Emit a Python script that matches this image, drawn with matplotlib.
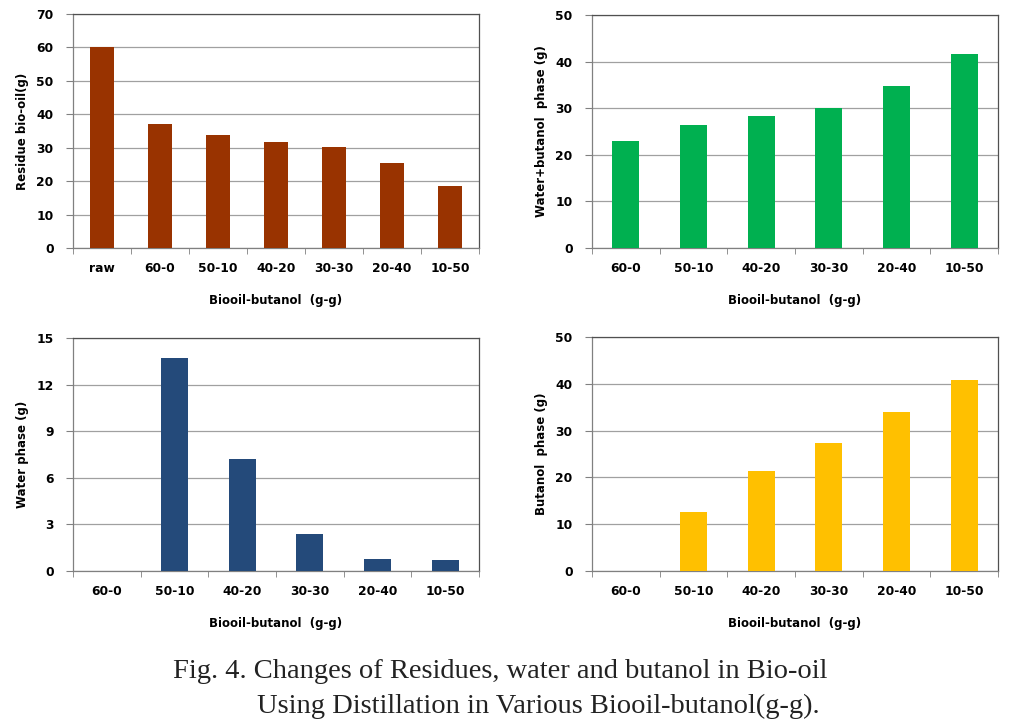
import numpy as np
import matplotlib
matplotlib.use("Agg")
import matplotlib.pyplot as plt

# data
cats_res = ['raw', '60-0', '50-10', '40-20', '30-30', '20-40', '10-50']
residue = [60.0, 37.2, 33.7, 31.6, 30.1, 25.3, 18.4]

cats = ['60-0', '50-10', '40-20', '30-30', '20-40', '10-50']
water_butanol = [23.0, 26.4, 28.4, 30.0, 34.8, 41.6]
water = [0.0, 13.7, 7.2, 2.4, 0.8, 0.7]
butanol = [0.0, 12.6, 21.3, 27.4, 33.9, 40.8]

W, H = 1018, 725
fig = plt.figure(figsize=(W/100, H/100), dpi=100)

def box(x0, y0, x1, y1):
    return [x0/W, 1 - y1/H, (x1 - x0)/W, (y1 - y0)/H]

panels = [
    (box(73, 14, 479, 248), cats_res, residue, '#993300', 70, 10, 'Residue bio-oil(g)'),
    (box(592, 15, 998, 248), cats, water_butanol, '#00B050', 50, 10, 'Water+butanol  phase (g)'),
    (box(73, 338, 479, 571), cats, water, '#244A7A', 15, 3, 'Water phase (g)'),
    (box(592, 337, 998, 571), cats, butanol, '#FFC000', 50, 10, 'Butanol  phase (g)'),
]

tick_font = dict(family='DejaVu Sans', weight='bold', size=8.8)

for rect, labels, vals, color, ymax, step, ylab in panels:
    ax = fig.add_axes(rect)
    n = len(labels)
    x = np.arange(n)
    ax.bar(x, vals, width=0.4, color=color, zorder=3)
    ax.set_xlim(-0.5, n - 0.5)
    ax.set_ylim(0, ymax)
    ax.set_yticks(np.arange(0, ymax + step, step))
    ax.set_xticks(x)
    ax.set_xticklabels(labels, **tick_font)
    ax.set_xticks(np.arange(n + 1) - 0.5, minor=True)
    ax.tick_params(axis='x', which='major', length=0, pad=10)
    ax.tick_params(axis='x', which='minor', length=4, color='#808080', direction='out')
    ax.tick_params(axis='y', length=5, color='#808080', direction='out', pad=9)
    for lab in ax.get_yticklabels():
        lab.set_fontweight('bold')
        lab.set_fontsize(8.8)
    ax.yaxis.grid(True, color='#A0A0A0', linewidth=0.9, zorder=0)
    for s in ax.spines.values():
        s.set_color('#808080')
        s.set_linewidth(0.9)
    ax.spines['top'].set_color('#505050')
    ax.spines['right'].set_color('#505050')
    ax.set_ylabel(ylab, fontsize=8.5, fontweight='bold', labelpad=5)
    ax.set_xlabel('Biooil-butanol  (g-g)', fontsize=8.5, fontweight='bold', labelpad=14)

fig.text(500/W, 1 - 672/H, 'Fig. 4. Changes of Residues, water and butanol in Bio-oil',
         ha='center', va='center', family='Liberation Serif', fontsize=20.5, color='#222222')
fig.text(257/W, 1 - 706/H, 'Using Distillation in Various Biooil-butanol(g-g).',
         ha='left', va='center', family='Liberation Serif', fontsize=20.5, color='#222222')

fig.savefig('out.png', dpi=100)
